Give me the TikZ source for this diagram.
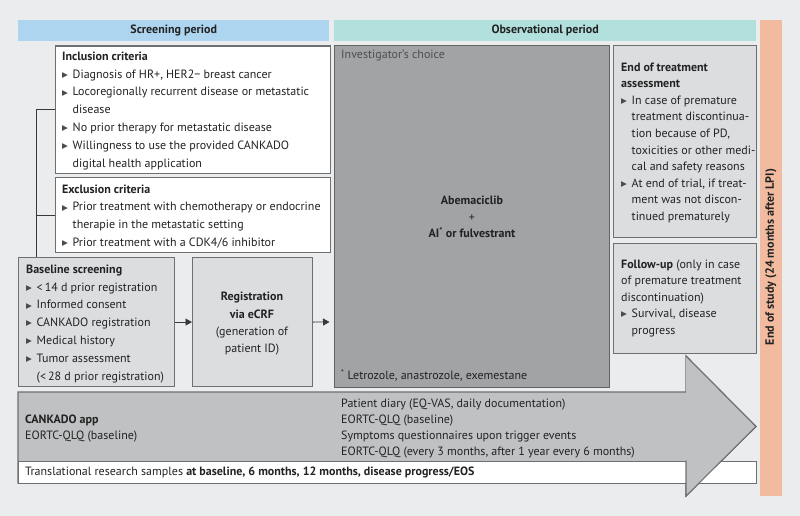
\documentclass[tikz,border=0pt]{standalone}
\usepackage{fontspec}
\setmainfont{PT Sans}
\newfontfamily\symfont{DejaVu Sans}
\usetikzlibrary{arrows.meta}
\definecolor{bg}{HTML}{EBECEE}
\definecolor{hblue}{HTML}{AED5F0}
\definecolor{hteal}{HTML}{B2E0DD}
\definecolor{salmon}{HTML}{F2BBA0}
\definecolor{lgrey}{HTML}{DCDDDF}
\definecolor{dgrey}{HTML}{A2A3A5}
\definecolor{agrey}{HTML}{C0C1C3}
\definecolor{edge}{HTML}{6E6F71}
\definecolor{txt}{HTML}{222222}
\definecolor{bulc}{HTML}{4A4A4A}
\newcommand{\bul}{\makebox[10.5pt][l]{\raisebox{0.8pt}{\symfont\fontsize{7.6}{7.6}\selectfont\color{bulc}▶}}}
\newcommand{\ind}{\hspace*{10.5pt}}
\tikzset{
  box/.style={draw=edge, line width=1.1pt, anchor=north west, inner sep=0pt},
  whitebox/.style={box, fill=white},
  greybox/.style={box, fill=lgrey},
  darkbox/.style={box, fill=dgrey, draw=edge!90!black},
  header/.style={anchor=north west, inner sep=0pt, font=\bfseries\fontsize{12}{14}\selectfont, text=txt},
  btext/.style={anchor=north west, inner sep=0pt, align=left, text=txt},
  conn/.style={draw=txt!90, line width=0.9pt},
  arr/.style={conn, -{Triangle[length=6.5pt,width=7pt]}},
}
\begin{document}
\begin{tikzpicture}[x=1pt,y=-1pt]
\useasboundingbox (0,0) rectangle (800,516);
\fill[bg] (0,0) rectangle (800,516);

% headers
\node[header, fill=hblue, minimum width=311pt, minimum height=21pt] (hscr) at (18,20) {Screening period};
\node[header, fill=hteal, minimum width=422pt, minimum height=21pt] (hobs) at (334,20) {Observational period};
\fill[salmon] (760,20) rectangle (782,496);
\node[rotate=90, font=\bfseries\fontsize{12}{14}\selectfont, text=txt] (eos) at (771,257) {End of study (24 months after LPI)};

% boxes
\node[whitebox, minimum width=275pt, minimum height=127.5pt] (incl) at (55,45.5) {};
\node[whitebox, minimum width=275pt, minimum height=75pt] (excl) at (55,177) {};
\node[greybox, minimum width=156pt, minimum height=129pt] (base) at (18,257) {};
\node[greybox, minimum width=120pt, minimum height=129pt] (reg) at (192,257) {};
\node[darkbox, minimum width=275pt, minimum height=342pt] (inv) at (334,45) {};
\node[greybox, minimum width=143pt, minimum height=192pt] (eot) at (613,45) {};
\node[greybox, minimum width=143pt, minimum height=110pt] (fu) at (613,242.5) {};

% connectors
\coordinate (j) at (36,257);
\draw[conn] (incl.west) -| (j);
\draw[conn] (excl.west) -- (excl.west -| j);
\draw[arr] (base.east) -- (reg.west);
\coordinate (invin) at (329.5,322);
\draw[arr] (reg.east) -- (invin);

% texts
\node[btext, font=\fontsize{12}{17.8}\selectfont] (tincl) at (62,51.5) {\textbf{Inclusion criteria}\\
\bul Diagnosis of HR+, HER2− breast cancer\\
\bul Locoregionally recurrent disease or metastatic\\
\ind disease\\
\bul No prior therapy for metastatic disease\\
\bul Willingness to use the provided CANKADO\\
\ind digital health application};

\node[btext, font=\fontsize{12}{17.6}\selectfont] (texcl) at (62,184.5) {\textbf{Exclusion criteria}\\
\bul Prior treatment with chemotherapy or endocrine\\
\ind therapie in the metastatic setting\\
\bul Prior treatment with a CDK4/6 inhibitor};

\node[btext, font=\fontsize{12}{17.8}\selectfont] (tbase) at (26,264.5) {\textbf{Baseline screening}\\
\bul <\,14 d prior registration\\
\bul Informed consent\\
\bul CANKADO registration\\
\bul Medical history\\
\bul Tumor assessment\\
\ind (<\,28 d prior registration)};

\node[align=center, text=txt, font=\fontsize{12}{17.3}\selectfont] (treg) at (252,324) {\textbf{Registration}\\ \textbf{via eCRF}\\ (generation of\\ patient ID)};

\node[anchor=west, inner sep=0pt, text=txt!80, font=\fontsize{12}{14}\selectfont] (tinv) at (341,55.5) {Investigator's choice};
\node[align=center, text=txt, font=\fontsize{12}{16.2}\selectfont] (tabe) at (472,217) {\textbf{Abemaciclib}\\ +\\ \textbf{AI\textsuperscript{*} or fulvestrant}};
\node[anchor=west, inner sep=0pt, text=txt, font=\fontsize{12}{14}\selectfont] (tfoot) at (341,375.5) {\textsuperscript{*} Letrozole, anastrozole, exemestane};

\node[btext, font=\fontsize{12}{16.6}\selectfont] (teot) at (621,62.5) {\textbf{End of treatment}\\
\textbf{assessment}\\
\bul In case of premature\\
\ind treatment discontinua-\\
\ind tion because of PD,\\
\ind toxicities or other medi-\\
\ind cal and safety reasons\\
\bul At end of trial, if treat-\\
\ind ment was not discon-\\
\ind tinued prematurely};

\node[btext, font=\fontsize{12}{16.5}\selectfont] (tfu) at (621,259.5) {\textbf{Follow-up} (only in case\\
of premature treatment\\
discontinuation)\\
\bul Survival, disease\\
\ind progress};

% big arrow
\draw[fill=agrey, draw=edge, line width=1.1pt] (18,392) -- (686,392) -- (686,356) -- (756,426.5) -- (686,496) -- (686,483) -- (18,483) -- cycle;
\node[whitebox, minimum width=738pt, minimum height=22pt] (trans) at (18,461) {};
\fill[agrey] (686,356) -- (756,426.5) -- (686,496) -- cycle;
\draw[draw=edge, line width=1.1pt, line join=miter] (686,460.5) -- (686,496) -- (756,426.5) -- (686,356);

\node[btext, font=\fontsize{12}{16}\selectfont] (tapp) at (25,414.5) {\textbf{CANKADO app}\\ EORTC-QLQ (baseline)};
\node[btext, font=\fontsize{12}{16}\selectfont] (tpat) at (341,398.5) {Patient diary (EQ-VAS, daily documentation)\\
EORTC-QLQ (baseline)\\
Symptoms questionnaires upon trigger events\\
EORTC-QLQ (every 3 months, after 1 year every 6 months)};
\node[anchor=west, inner sep=0pt, text=txt, font=\fontsize{12}{14}\selectfont] (ttrans) at (25,472) {Translational research samples \textbf{at baseline, 6 months, 12 months, disease progress/EOS}};
\end{tikzpicture}
\end{document}
